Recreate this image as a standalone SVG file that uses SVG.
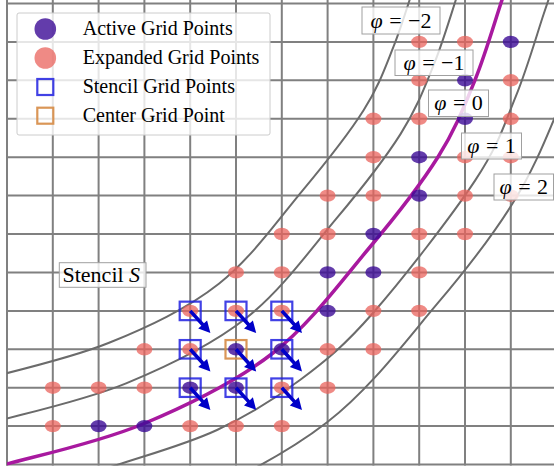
<svg xmlns="http://www.w3.org/2000/svg" width="554" height="468" viewBox="0 0 554 468">
<defs>
<clipPath id="plot"><rect x="7" y="-20" width="560" height="485.5"/></clipPath>
<ellipse id="dot" cx="0" cy="0" rx="8" ry="6.2"/>
<path id="arr" d="M0,-1.8 L18.5,-1.8 L18.5,-6 L30,0 L18.5,6 L18.5,1.8 L0,1.8 Z"/>
</defs>
<style>
.grid {fill:none; stroke:#808080; stroke-width:2}
.lvl {fill:none; stroke:#6b6b6b; stroke-width:2}
.zero {fill:none; stroke:#a8199f; stroke-width:3.5}
.act {fill:#3c0b96; fill-opacity:0.8}
.exp {fill:#ea635c; fill-opacity:0.75}
.st {fill:none; stroke:#2020e0; stroke-opacity:0.85; stroke-width:2.2}
.ce {fill:none; stroke:#d68b45; stroke-opacity:0.9; stroke-width:2.2}
.ar {fill:#0000c8}
.box {fill:#ffffff; fill-opacity:0.8; stroke:#a0a0a0; stroke-width:1}
text {font-family:"Liberation Serif","Times New Roman",serif; fill:#000000}
.leg {font-size:20px}
.phi {font-size:22px; text-anchor:middle; word-spacing:1px}
</style>

<g id="grid" class="grid">
<path d="M7,0V465.5 M52.8,0V465.5 M98.6,0V465.5 M144.4,0V465.5 M190.2,0V465.5 M236,0V465.5 M281.8,0V465.5 M327.6,0V465.5 M373.4,0V465.5 M419.2,0V465.5 M465,0V465.5 M510.8,0V465.5"/>
<path d="M6,3.5H554 M6,41.9H554 M6,80.3H554 M6,118.8H554 M6,157.2H554 M6,195.6H554 M6,234H554 M6,272.4H554 M6,310.9H554 M6,349.3H554 M6,387.7H554 M6,426.1H554 M6,464.5H554"/>
</g>

<g id="connectors" clip-path="url(#plot)">
<path id="phi-m2" class="lvl" d="M-16.2,379.1 C11.6,371.6 69.9,358.7 109.1,342.8 C148.3,326.9 186.6,309.1 218.9,283.7 C251.2,258.3 278.6,219.2 302.7,190.3 C326.8,161.4 348.5,134.1 363.6,110.2 C378.7,86.3 384.3,69.75 393.5,46.7 C402.7,23.65 412.8,-10.8 418.6,-28.1"/>
<path id="phi-m1" class="lvl" d="M-4.6,421.5 C24.6,413.6 84.4,400.6 126.1,383.4 C167.9,366.2 210.9,345.8 245.9,318.3 C280.9,290.9 310.5,249.5 336.3,218.7 C362.1,187.9 384.5,159.5 400.8,133.6 C417.1,107.7 424.4,88 434.3,63.4 C444.2,38.8 454.3,3.8 460.3,-14"/>
<path id="phi-p1" class="lvl" d="M20,495 C49.5,486.7 84.2,475.8 117,465 C149.8,454.2 186.5,444.2 217,430 C247.5,415.8 274,399.5 300,380 C326,360.5 343.8,346.3 373,313 C402.2,279.7 451.4,216.5 475.2,180.4 C499,144.3 504.3,124.3 515.7,96.6 C527.1,68.9 537.35,32.8 543.7,14 C550.05,-4.8 550.6,-6.6 553.8,-16.4"/>
<path id="phi-p2" class="lvl" d="M176.9,505.2 C226.4,484.1 283.7,455.9 327.1,422.3 C370.5,388.7 406.4,340.1 437.3,303.7 C468.2,267.3 492.5,235.5 512.4,203.8 C532.3,172.1 544.3,142.6 556.5,113.3"/>
<path id="phi-0" class="zero" d="M-40,474 L7,464 C37.5,455.7 98.7,442.5 143,424 C187.3,405.5 235.2,382.5 273,353 C310.8,323.5 342.5,279.7 370,247 C397.5,214.3 420.5,184.8 438,157 C455.5,129.2 464.3,106.2 475,80 C485.7,53.8 495.8,18.3 502,0 C508.2,-18.3 510.3,-25 512,-30"/>
</g>

<g id="expanded-points" class="exp">
<use href="#dot" x="419.2" y="41.9"/><use href="#dot" x="465" y="41.9"/>
<use href="#dot" x="419.2" y="80.3"/><use href="#dot" x="510.8" y="80.3"/>
<use href="#dot" x="373.4" y="118.8"/><use href="#dot" x="419.2" y="118.8"/><use href="#dot" x="510.8" y="118.8"/>
<use href="#dot" x="373.4" y="157.2"/><use href="#dot" x="465" y="157.2"/><use href="#dot" x="510.8" y="157.2"/>
<use href="#dot" x="327.6" y="195.6"/><use href="#dot" x="373.4" y="195.6"/><use href="#dot" x="465" y="195.6"/><use href="#dot" x="510.8" y="195.6"/>
<use href="#dot" x="281.8" y="234"/><use href="#dot" x="327.6" y="234"/><use href="#dot" x="419.2" y="234"/><use href="#dot" x="465" y="234"/>
<use href="#dot" x="236" y="272.4"/><use href="#dot" x="281.8" y="272.4"/><use href="#dot" x="419.2" y="272.4"/>
<use href="#dot" x="190.2" y="310.9"/><use href="#dot" x="236" y="310.9"/><use href="#dot" x="281.8" y="310.9"/><use href="#dot" x="373.4" y="310.9"/><use href="#dot" x="419.2" y="310.9"/>
<use href="#dot" x="144.4" y="349.3"/><use href="#dot" x="190.2" y="349.3"/><use href="#dot" x="327.6" y="349.3"/><use href="#dot" x="373.4" y="349.3"/>
<use href="#dot" x="52.8" y="387.7"/><use href="#dot" x="98.6" y="387.7"/><use href="#dot" x="144.4" y="387.7"/><use href="#dot" x="281.8" y="387.7"/><use href="#dot" x="327.6" y="387.7"/>
<use href="#dot" x="52.8" y="426.1"/><use href="#dot" x="190.2" y="426.1"/><use href="#dot" x="236" y="426.1"/><use href="#dot" x="281.8" y="426.1"/>
</g>

<g id="active-points" class="act">
<use href="#dot" x="510.8" y="41.9"/>
<use href="#dot" x="465" y="80.3"/>
<use href="#dot" x="465" y="118.8"/>
<use href="#dot" x="419.2" y="157.2"/>
<use href="#dot" x="419.2" y="195.6"/>
<use href="#dot" x="373.4" y="234"/>
<use href="#dot" x="327.6" y="272.4"/><use href="#dot" x="373.4" y="272.4"/>
<use href="#dot" x="327.6" y="310.9"/>
<use href="#dot" x="236" y="349.3"/><use href="#dot" x="281.8" y="349.3"/>
<use href="#dot" x="190.2" y="387.7"/><use href="#dot" x="236" y="387.7"/>
<use href="#dot" x="98.6" y="426.1"/><use href="#dot" x="144.4" y="426.1"/>
</g>

<g id="stencil">
<rect class="st" x="179.7" y="301.65" width="21" height="18.5"/>
<rect class="st" x="225.5" y="301.65" width="21" height="18.5"/>
<rect class="st" x="271.3" y="301.65" width="21" height="18.5"/>
<rect class="st" x="179.7" y="340.05" width="21" height="18.5"/>
<rect class="ce" x="225.5" y="340.05" width="21" height="18.5"/>
<rect class="st" x="271.3" y="340.05" width="21" height="18.5"/>
<rect class="st" x="179.7" y="378.45" width="21" height="18.5"/>
<rect class="st" x="225.5" y="378.45" width="21" height="18.5"/>
<rect class="st" x="271.3" y="378.45" width="21" height="18.5"/>
</g>

<g id="arrows" class="ar">
<use href="#arr" transform="translate(190.2,310.9) rotate(47.7)"/>
<use href="#arr" transform="translate(236,310.9) rotate(47.7)"/>
<use href="#arr" transform="translate(281.8,310.9) rotate(47.7)"/>
<use href="#arr" transform="translate(190.2,349.3) rotate(47.7)"/>
<use href="#arr" transform="translate(236,349.3) rotate(47.7)"/>
<use href="#arr" transform="translate(281.8,349.3) rotate(47.7)"/>
<use href="#arr" transform="translate(190.2,387.7) rotate(47.7)"/>
<use href="#arr" transform="translate(236,387.7) rotate(47.7)"/>
<use href="#arr" transform="translate(281.8,387.7) rotate(47.7)"/>
</g>

<g id="label-phi-m2"><rect class="box" x="362" y="7" width="78" height="27"/><text class="phi" x="401" y="27.5"><tspan font-style="italic">φ</tspan> = −2</text></g>
<g id="label-phi-m1"><rect class="box" x="395" y="50" width="78" height="25.5"/><text class="phi" x="434" y="69.5"><tspan font-style="italic">φ</tspan> = −1</text></g>
<g id="label-phi-0"><rect class="box" x="428.5" y="90" width="60" height="26.5"/><text class="phi" x="458.5" y="110"><tspan font-style="italic">φ</tspan> = 0</text></g>
<g id="label-phi-p1"><rect class="box" x="461.5" y="133" width="60" height="26"/><text class="phi" x="491.5" y="153"><tspan font-style="italic">φ</tspan> = 1</text></g>
<g id="label-phi-p2"><rect class="box" x="494" y="174" width="59.5" height="26"/><text class="phi" x="523.8" y="194"><tspan font-style="italic">φ</tspan> = 2</text></g>

<g id="label-stencil"><rect class="box" x="59.3" y="262.7" width="86.7" height="24.6"/><text x="62.5" y="281.5" font-size="22">Stencil <tspan font-style="italic">S</tspan></text></g>

<g id="legend">
<rect x="17" y="13" width="253" height="122" rx="2" fill="#ffffff" fill-opacity="0.8" stroke="#cccccc" stroke-width="1"/>
<circle class="act" cx="45.3" cy="29" r="10.8"/>
<circle class="exp" cx="45.3" cy="58" r="10.8"/>
<rect class="st" x="37.3" y="79" width="16" height="16"/>
<rect class="ce" x="37.3" y="107.7" width="16" height="16"/>
<text class="leg" x="82.7" y="35">Active Grid Points</text>
<text class="leg" x="82.7" y="64.3">Expanded Grid Points</text>
<text class="leg" x="82.7" y="93.3">Stencil Grid Points</text>
<text class="leg" x="82.7" y="121.7">Center Grid Point</text>
</g>
</svg>
